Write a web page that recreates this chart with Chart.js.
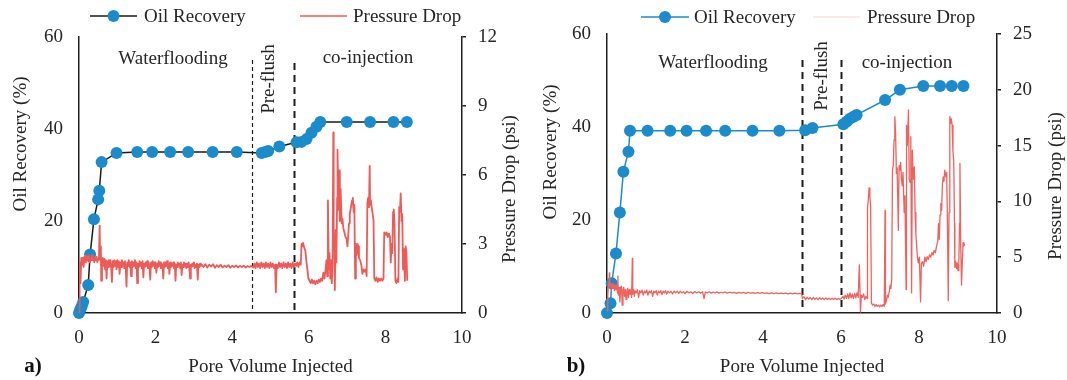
<!DOCTYPE html>
<html>
<head>
<meta charset="utf-8">
<script src="https://cdn.jsdelivr.net/npm/chart.js@4.4.1/dist/chart.umd.min.js"></script>
<style>
  body { margin: 0; background: #fff; width: 1067px; height: 380px; position: relative; overflow: hidden; }
  canvas { position: absolute; top: 0; }
  #chartA { left: 0; }
  #chartB { left: 533px; }
</style>
</head>
<body>
<canvas id="chartA" width="533" height="380"></canvas>
<canvas id="chartB" width="534" height="380"></canvas>
<script>
// ---- data ----
const xTicks = [0, 2, 4, 6, 8, 10];
const recTicks = [0, 20, 40, 60];
const dropTicksA = [0, 3, 6, 9, 12];
const dropTicksB = [0, 5, 10, 15, 20, 25];

// a) oil recovery (%) vs pore volume injected
const pvRecA = [0, 0.03, 0.07, 0.11, 0.24, 0.29, 0.39, 0.50, 0.53, 0.59, 0.98, 1.52, 1.91, 2.38, 2.85, 3.49, 4.12, 4.77, 4.86, 4.94, 5.23, 5.68, 5.81, 5.94, 6.07, 6.20, 6.30, 6.99, 7.60, 8.21, 8.56];
const recA = [0, 0.7, 1.4, 2.4, 6.1, 12.7, 20.4, 24.7, 26.6, 32.8, 34.8, 35, 35, 35, 35, 35, 35, 34.8, 35, 35.2, 36.2, 37.1, 37.2, 37.8, 39.2, 40.5, 41.5, 41.5, 41.5, 41.5, 41.5];

// a) pressure drop (psi), [pv, psi]
const dropA = [
  [0.00,0.0],[0.01,0.9],[0.02,2.2],[0.04,1.3],[0.06,2.4],[0.08,2.1],[0.10,2.4],[0.12,2.0],[0.14,2.45],[0.16,2.2],
  [0.18,2.5],[0.20,2.3],[0.22,2.45],[0.24,2.25],[0.26,2.5],[0.28,2.2],[0.30,2.4],[0.32,2.3],[0.34,2.5],[0.36,2.3],
  [0.38,2.45],[0.40,2.2],[0.42,2.4],[0.44,2.3],[0.46,2.45],[0.48,2.2],[0.50,2.35],[0.52,2.4],[0.54,3.8],[0.55,2.3],
  [0.57,2.9],[0.58,1.4],[0.60,2.2],[0.62,2.4],[0.64,2.05],[0.66,2.35],[0.68,1.9],[0.70,2.3],[0.72,1.5],[0.74,2.25],
  [0.76,2.0],[0.78,2.3],[0.80,2.05],[0.82,2.3],[0.84,1.95],[0.86,1.35],[0.88,2.25],[0.90,2.0],[0.92,2.3],[0.94,2.05],
  [0.96,2.25],[0.98,1.9],[1.00,2.3],[1.02,2.0],[1.04,2.25],[1.06,1.7],[1.08,2.2],[1.10,2.0],[1.12,2.3],[1.14,2.05],
  [1.16,2.2],[1.18,1.95],[1.20,2.25],[1.22,2.0],[1.24,1.15],[1.26,2.2],[1.28,2.05],[1.30,2.3],[1.32,2.0],[1.34,2.2],
  [1.36,1.6],[1.38,2.25],[1.40,2.0],[1.42,2.2],[1.44,2.05],[1.46,2.3],[1.48,1.95],[1.50,2.2],[1.52,1.3],[1.54,2.15],
  [1.56,2.0],[1.58,2.25],[1.60,2.05],[1.62,2.2],[1.64,1.95],[1.66,2.25],[1.68,1.55],[1.70,2.15],[1.72,2.0],[1.74,2.2],
  [1.76,2.05],[1.78,2.25],[1.80,1.95],[1.82,2.2],[1.84,2.05],[1.86,1.45],[1.88,2.2],[1.90,2.0],[1.92,2.25],[1.94,2.05],
  [1.96,2.2],[1.98,1.95],[2.00,2.2],[2.02,1.75],[2.04,2.15],[2.06,2.0],[2.08,2.25],[2.10,2.05],[2.12,2.2],[2.14,1.95],
  [2.16,2.15],[2.18,2.05],[2.20,1.5],[2.22,2.2],[2.24,2.0],[2.26,2.2],[2.28,2.05],[2.30,2.25],[2.32,1.95],[2.34,2.15],
  [2.36,1.7],[2.38,2.2],[2.40,2.0],[2.42,2.15],[2.44,2.05],[2.46,2.2],[2.48,1.95],[2.50,2.15],[2.52,1.4],[2.54,2.1],
  [2.56,2.0],[2.58,2.2],[2.60,2.05],[2.62,2.15],[2.64,1.95],[2.66,2.2],[2.68,1.65],[2.70,2.1],[2.72,2.0],[2.74,2.2],
  [2.76,2.05],[2.78,2.15],[2.80,1.95],[2.82,2.15],[2.84,2.0],[2.86,2.2],[2.88,2.05],[2.90,1.5],[2.92,2.1],[2.94,2.0],
  [2.96,2.15],[2.98,2.05],[3.00,2.2],[3.02,1.95],[3.04,2.1],[3.06,2.0],[3.08,2.15],[3.10,1.45],[3.12,2.1],[3.14,2.0],
  [3.16,2.15],[3.18,2.05],[3.20,2.1],[3.25,2.0],[3.30,2.12],[3.35,1.98],[3.40,2.1],[3.45,2.02],[3.50,2.12],[3.55,1.97],
  [3.60,2.08],[3.65,2.0],[3.70,2.1],[3.75,1.98],[3.80,2.06],[3.85,2.0],[3.90,2.08],[3.95,1.97],[4.00,2.05],[4.05,2.0],
  [4.10,2.07],[4.15,1.98],[4.20,2.05],[4.25,2.0],[4.30,2.06],[4.35,1.98],[4.40,2.04],[4.45,2.0],[4.50,2.05],[4.55,1.98],
  [4.58,2.15],[4.61,1.95],[4.64,2.2],[4.67,2.0],[4.70,2.15],[4.73,1.95],[4.76,2.2],[4.79,2.0],[4.82,2.15],[4.85,1.95],
  [4.88,2.2],[4.91,2.0],[4.94,2.15],[4.97,1.95],[5.00,2.2],[5.03,2.0],[5.06,2.15],[5.09,1.95],[5.12,2.1],[5.14,0.9],
  [5.16,2.1],[5.19,1.95],[5.22,2.2],[5.25,2.0],[5.28,2.15],[5.31,1.95],[5.34,2.2],[5.37,2.0],[5.40,2.15],[5.43,1.95],
  [5.46,2.2],[5.49,2.0],[5.52,2.15],[5.55,1.95],[5.58,2.2],[5.61,2.0],[5.64,2.15],[5.67,2.05],[5.70,2.2],[5.73,2.0],
  [5.76,2.2],[5.79,2.1],[5.81,3.0],[5.83,2.9],[5.85,3.05],[5.88,2.85],[5.91,2.7],[5.94,2.2],[5.97,1.8],[5.99,1.5],
  [6.02,1.4],[6.05,1.3],[6.08,1.45],[6.11,1.3],[6.14,1.4],[6.17,1.25],[6.20,1.4],[6.23,1.3],[6.26,1.45],[6.29,1.35],
  [6.32,1.5],[6.35,1.4],[6.38,1.75],[6.41,1.5],[6.44,1.9],[6.46,2.3],[6.48,1.6],[6.50,4.9],[6.52,1.9],[6.54,2.6],
  [6.56,1.5],[6.58,2.3],[6.60,1.3],[6.62,2.0],[6.64,7.85],[6.65,3.5],[6.67,2.8],[6.68,1.0],[6.70,3.6],[6.72,2.2],
  [6.74,5.0],[6.75,7.1],[6.77,4.5],[6.79,6.2],[6.81,4.0],[6.83,5.4],[6.86,3.9],[6.88,4.1],[6.90,3.7],[6.93,3.5],
  [6.96,3.3],[6.99,3.2],[7.01,2.9],[7.03,3.4],[7.05,3.9],[7.07,4.3],[7.10,4.6],[7.13,4.9],[7.15,5.0],[7.17,4.4],
  [7.19,4.7],[7.21,1.5],[7.23,3.0],[7.25,2.5],[7.27,3.0],[7.29,2.9],[7.31,2.4],[7.34,2.3],[7.37,2.1],[7.40,1.7],
  [7.43,1.9],[7.46,1.8],[7.49,1.9],[7.51,1.6],[7.53,4.8],[7.55,5.0],[7.57,4.6],[7.59,6.4],[7.60,4.7],[7.62,4.9],
  [7.65,4.5],[7.67,4.3],[7.69,4.0],[7.71,1.5],[7.74,1.4],[7.77,1.55],[7.80,1.35],[7.83,1.5],[7.86,1.4],[7.89,1.5],
  [7.92,1.4],[7.95,1.5],[7.97,3.5],[8.00,3.4],[8.03,3.5],[8.06,3.3],[8.09,3.45],[8.12,3.3],[8.14,2.2],[8.16,3.0],
  [8.18,2.6],[8.20,4.4],[8.22,4.5],[8.24,3.8],[8.26,1.4],[8.29,1.3],[8.32,1.5],[8.34,1.35],[8.36,4.6],[8.38,4.4],
  [8.40,5.2],[8.42,4.0],[8.44,4.3],[8.46,1.9],[8.48,2.8],[8.51,1.4],[8.53,2.9],[8.55,2.6],[8.57,1.4]
];

// b) oil recovery (%)
const pvRecB = [0, 0.09, 0.12, 0.23, 0.33, 0.42, 0.55, 0.59, 1.04, 1.62, 2.04, 2.54, 3.03, 3.73, 4.42, 5.08, 5.27, 6.06, 6.15, 6.23, 6.32, 6.40, 7.13, 7.51, 8.11, 8.54, 8.84, 9.14];
const recB = [0, 2.1, 6.4, 12.8, 21.6, 30.4, 34.7, 39.2, 39.2, 39.2, 39.2, 39.2, 39.2, 39.2, 39.2, 39.3, 39.8, 40.6, 41.2, 41.8, 42.2, 42.6, 45.8, 48, 48.8, 48.8, 48.8, 48.8];

// b) pressure drop (psi), [pv, psi]
const dropB = [
  [0.00,0.2],[0.02,1.5],[0.04,2.7],[0.05,2.3],[0.06,3.6],[0.07,2.4],[0.09,2.7],[0.11,2.1],[0.13,2.6],[0.15,2.2],
  [0.17,2.6],[0.19,2.0],[0.21,2.5],[0.23,2.1],[0.25,2.4],[0.27,1.8],[0.28,3.3],[0.29,1.6],[0.31,2.3],[0.33,1.0],
  [0.35,2.2],[0.37,2.4],[0.39,0.7],[0.41,2.1],[0.43,2.3],[0.45,1.5],[0.47,2.1],[0.49,1.2],[0.51,2.0],[0.53,2.2],
  [0.55,1.4],[0.57,2.1],[0.59,1.7],[0.61,2.1],[0.63,1.4],[0.65,4.9],[0.66,1.7],[0.68,2.1],[0.70,1.5],[0.72,2.0],
  [0.75,1.8],[0.78,2.1],[0.81,1.4],[0.84,2.0],[0.87,1.8],[0.90,2.05],[0.93,1.6],[0.96,1.95],[0.99,1.8],[1.02,2.05],
  [1.05,1.6],[1.08,1.95],[1.11,1.8],[1.14,2.0],[1.17,1.5],[1.20,1.95],[1.23,1.8],[1.26,2.0],[1.29,1.6],[1.32,1.95],
  [1.35,1.8],[1.38,2.0],[1.41,1.65],[1.44,1.95],[1.47,1.8],[1.50,2.0],[1.53,1.7],[1.56,1.95],[1.60,1.8],[1.64,1.95],
  [1.68,1.7],[1.72,1.95],[1.76,1.8],[1.80,1.95],[1.84,1.75],[1.88,1.95],[1.92,1.8],[1.96,1.9],[2.00,1.75],[2.05,1.95],
  [2.10,1.8],[2.15,1.9],[2.20,1.75],[2.25,1.92],[2.30,1.8],[2.35,1.9],[2.40,1.78],[2.45,1.9],[2.49,1.3],[2.52,1.88],
  [2.57,1.8],[2.62,1.9],[2.67,1.78],[2.72,1.88],[2.77,1.8],[2.82,1.9],[2.87,1.78],[2.92,1.86],[2.97,1.8],[3.02,1.88],
  [3.08,1.78],[3.14,1.86],[3.20,1.8],[3.26,1.85],[3.32,1.76],[3.38,1.85],[3.44,1.78],[3.50,1.84],[3.56,1.76],[3.62,1.84],
  [3.68,1.77],[3.74,1.83],[3.80,1.76],[3.86,1.82],[3.92,1.75],[3.98,1.82],[4.04,1.75],[4.10,1.81],[4.16,1.74],[4.22,1.8],
  [4.28,1.74],[4.34,1.8],[4.40,1.73],[4.46,1.79],[4.52,1.73],[4.58,1.78],[4.64,1.72],[4.70,1.78],[4.76,1.72],[4.82,1.77],
  [4.88,1.71],[4.94,1.76],[4.99,1.72],[5.01,1.3],[5.05,1.45],[5.09,1.2],[5.13,1.4],[5.17,1.25],[5.21,1.38],[5.25,1.2],
  [5.29,1.4],[5.33,1.22],[5.37,1.36],[5.41,1.2],[5.45,1.38],[5.49,1.22],[5.53,1.35],[5.57,1.2],[5.61,1.34],[5.65,1.22],
  [5.69,1.33],[5.73,1.2],[5.77,1.32],[5.81,1.22],[5.85,1.32],[5.89,1.2],[5.93,1.3],[5.97,1.22],[6.01,1.3],[6.05,1.5],
  [6.08,1.25],[6.11,1.6],[6.14,1.3],[6.17,1.7],[6.20,1.3],[6.23,1.8],[6.26,1.35],[6.29,1.7],[6.32,1.3],[6.35,1.75],
  [6.38,1.35],[6.41,1.8],[6.44,1.4],[6.47,4.3],[6.49,1.5],[6.50,0.1],[6.52,1.6],[6.55,1.4],[6.58,1.7],[6.61,1.2],
  [6.64,1.5],[6.67,1.3],[6.68,9.5],[6.70,10.1],[6.72,11.2],[6.74,10.4],[6.76,9.6],[6.78,0.9],[6.81,0.7],[6.84,0.8],
  [6.87,0.6],[6.90,0.75],[6.93,0.6],[6.96,0.7],[6.99,0.55],[7.02,0.7],[7.05,0.6],[7.08,0.75],[7.11,0.6],[7.13,9.2],
  [7.14,0.8],[7.17,1.2],[7.19,1.6],[7.21,1.4],[7.24,2.0],[7.26,2.5],[7.28,2.2],[7.30,3.0],[7.32,12.8],[7.34,13.2],
  [7.36,15.5],[7.38,17.6],[7.40,16.1],[7.42,12.5],[7.44,13.0],[7.47,7.4],[7.49,13.2],[7.51,12.8],[7.53,13.5],[7.55,12.0],
  [7.57,11.4],[7.59,12.6],[7.62,9.0],[7.64,10.5],[7.67,2.1],[7.68,16.8],[7.70,15.0],[7.73,18.2],[7.75,12.0],[7.77,11.7],
  [7.79,15.8],[7.81,1.8],[7.83,14.6],[7.85,12.0],[7.88,13.1],[7.90,9.0],[7.92,7.1],[7.94,6.0],[7.96,5.0],[7.98,4.5],
  [8.01,5.0],[8.04,1.0],[8.06,4.4],[8.09,4.6],[8.12,4.2],[8.15,5.0],[8.18,4.6],[8.21,5.05],[8.24,4.8],[8.27,5.2],
  [8.30,5.0],[8.33,5.4],[8.36,5.2],[8.39,5.6],[8.42,5.4],[8.45,6.0],[8.48,6.4],[8.50,8.0],[8.52,6.6],[8.54,8.8],
  [8.56,9.8],[8.58,9.2],[8.60,11.5],[8.62,12.2],[8.64,11.8],[8.66,12.8],[8.69,12.2],[8.71,12.6],[8.73,8.0],[8.75,1.1],
  [8.77,9.0],[8.79,17.6],[8.81,17.0],[8.83,17.4],[8.85,16.8],[8.87,14.5],[8.89,13.7],[8.91,8.0],[8.92,4.1],[8.94,4.6],
  [8.96,4.0],[8.98,4.5],[9.00,3.8],[9.02,4.4],[9.04,8.0],[9.05,13.4],[9.07,6.0],[9.09,2.5],[9.11,4.5],[9.13,6.3],
  [9.15,6.0],[9.17,6.2]
];

// ---- styling ----
const FONT = '"Liberation Serif", "Times New Roman", serif';
const TEXT = '#262626';
const AXIS = '#1e1e1e';
const BLUE = '#1b8bcc';

function vText(ctx, txt, x, y) {
  ctx.save();
  ctx.translate(x, y);
  ctx.rotate(-Math.PI / 2);
  ctx.textAlign = 'center';
  ctx.textBaseline = 'middle';
  ctx.fillText(txt, 0, 0);
  ctx.restore();
}

// dashed phase lines, phase labels, legend, rotated axis titles, panel letter
function decorPlugin(p) {
  return {
    id: 'decor',
    beforeDatasetsDraw(chart) {
      const ctx = chart.ctx;
      const xs = chart.scales.x;
      const bottom = chart.chartArea.bottom;
      p.dashes.forEach(l => {
        const px = Math.round(xs.getPixelForValue(l.pv)) + 0.5;
        ctx.save();
        ctx.strokeStyle = AXIS;
        ctx.lineWidth = l.width;
        ctx.setLineDash(l.dash);
        ctx.beginPath();
        ctx.moveTo(px, l.top);
        ctx.lineTo(px, bottom);
        ctx.stroke();
        ctx.restore();
      });
    },
    afterDraw(chart) {
      const ctx = chart.ctx;
      const L = p.legend;
      ctx.save();
      ctx.font = '19px ' + FONT;
      ctx.fillStyle = TEXT;
      ctx.textBaseline = 'middle';
      ctx.textAlign = 'left';

      // legend
      ctx.strokeStyle = p.recLine;
      ctx.lineWidth = 1.5;
      ctx.beginPath(); ctx.moveTo(L.rec[0], L.y); ctx.lineTo(L.rec[1], L.y); ctx.stroke();
      ctx.fillStyle = BLUE;
      ctx.beginPath(); ctx.arc((L.rec[0] + L.rec[1]) / 2, L.y, 6, 0, Math.PI * 2); ctx.fill();
      ctx.fillStyle = TEXT;
      ctx.fillText('Oil Recovery', L.rec[2], L.y + 1);
      ctx.strokeStyle = p.dropLegend;
      ctx.lineWidth = p.dropLegendWidth;
      ctx.beginPath(); ctx.moveTo(L.drop[0], L.y); ctx.lineTo(L.drop[1], L.y); ctx.stroke();
      ctx.fillText('Pressure Drop', L.drop[2], L.y + 1);

      // phase labels
      ctx.textAlign = 'center';
      ctx.fillText('Waterflooding', p.water[0], p.water[1]);
      ctx.fillText('co-injection', p.coinj[0], p.coinj[1]);
      vText(ctx, 'Pre-flush', p.preflush[0], p.preflush[1]);

      // vertical axis titles
      vText(ctx, 'Oil Recovery (%)', p.leftTitle[0], p.leftTitle[1]);
      vText(ctx, 'Pressure Drop (psi)', p.rightTitle[0], p.rightTitle[1]);

      // panel letter
      ctx.font = 'bold 21px ' + FONT;
      ctx.fillStyle = '#111';
      ctx.fillText(p.letter, p.letterPos[0], p.letterPos[1]);
      ctx.restore();
    }
  };
}

function makePanel(id, p) {
  const tickFont = { family: FONT, size: 19 };
  return new Chart(document.getElementById(id), {
    type: 'scatter',
    data: {
      datasets: [
        {
          label: 'Pressure Drop',
          data: p.drop.map(([x, y]) => ({ x, y })),
          yAxisID: 'y1',
          showLine: true,
          borderColor: p.dropColor,
          borderWidth: p.dropWidth,
          borderJoinStyle: 'round',
          pointRadius: 0,
          order: 0
        },
        {
          label: 'Oil Recovery',
          data: p.pv.map((x, i) => ({ x, y: p.rec[i] })),
          yAxisID: 'y',
          showLine: true,
          borderColor: p.recLine,
          borderWidth: 1.5,
          pointRadius: 6,
          pointBackgroundColor: BLUE,
          pointBorderWidth: 0,
          clip: false,
          order: 1
        }
      ]
    },
    options: {
      responsive: false,
      animation: false,
      devicePixelRatio: 1,
      layout: { padding: { top: p.top, left: 0, right: 0, bottom: 0 } },
      plugins: { legend: { display: false }, tooltip: { enabled: false } },
      scales: {
        x: {
          type: 'linear', min: 0, max: 10,
          afterBuildTicks: s => { s.ticks = xTicks.map(v => ({ value: v })); },
          ticks: { font: tickFont, color: TEXT, padding: 14 },
          grid: { display: false, drawTicks: false },
          border: { display: true, color: AXIS, width: 1.5 },
          title: { display: true, text: 'Pore Volume Injected', font: tickFont, color: TEXT, padding: { top: 0, bottom: 2 } },
          afterFit: s => { s.height = 67; }
        },
        y: {
          type: 'linear', position: 'left', min: 0, max: 60,
          afterBuildTicks: s => { s.ticks = recTicks.map(v => ({ value: v })); },
          ticks: { font: tickFont, color: TEXT, padding: 16 },
          grid: { display: false, drawTicks: false },
          border: { display: true, color: AXIS, width: 1.5 },
          afterFit: s => { s.width = p.leftW; }
        },
        y1: {
          type: 'linear', position: 'right', min: 0, max: p.dropTicks[p.dropTicks.length - 1],
          afterBuildTicks: s => { s.ticks = p.dropTicks.map(v => ({ value: v })); },
          ticks: { font: tickFont, color: TEXT, padding: 12 },
          grid: { display: true, drawOnChartArea: false, drawTicks: true, tickLength: 4, color: AXIS, lineWidth: 1.5 },
          border: { display: true, color: AXIS, width: 1.5 },
          afterFit: s => { s.width = p.rightW; }
        }
      }
    },
    plugins: [decorPlugin(p)]
  });
}

makePanel('chartA', {
  pv: pvRecA, rec: recA, drop: dropA, dropTicks: dropTicksA,
  top: 37, leftW: 79, rightW: 71,
  recLine: '#1a1a1a', dropColor: '#ee5b56', dropWidth: 1.8,
  dropLegend: '#ee5b56', dropLegendWidth: 1.5,
  dashes: [
    { pv: 4.53, top: 60, width: 1.2, dash: [4, 3] },
    { pv: 5.62, top: 63, width: 2, dash: [7, 5] }
  ],
  legend: { y: 16, rec: [90, 137, 144], drop: [300, 347, 353] },
  water: [173, 59], coinj: [368, 58], preflush: [269, 79],
  leftTitle: [21, 144], rightTitle: [510, 189],
  letter: 'a)', letterPos: [33, 367]
});

makePanel('chartB', {
  pv: pvRecB, rec: recB, drop: dropB, dropTicks: dropTicksB,
  top: 34, leftW: 74, rightW: 70,
  recLine: BLUE, dropColor: '#f0625e', dropWidth: 1.3,
  dropLegend: '#f8d3d2', dropLegendWidth: 1,
  dashes: [
    { pv: 5.0, top: 60, width: 2, dash: [7, 5] },
    { pv: 6.0, top: 60, width: 2, dash: [7, 5] }
  ],
  legend: { y: 17, rec: [108, 156, 161], drop: [280, 327, 334] },
  water: [180, 63], coinj: [374, 63], preflush: [289, 76],
  leftTitle: [18, 152], rightTitle: [523, 186],
  letter: 'b)', letterPos: [43, 367]
});
</script>
</body>
</html>
